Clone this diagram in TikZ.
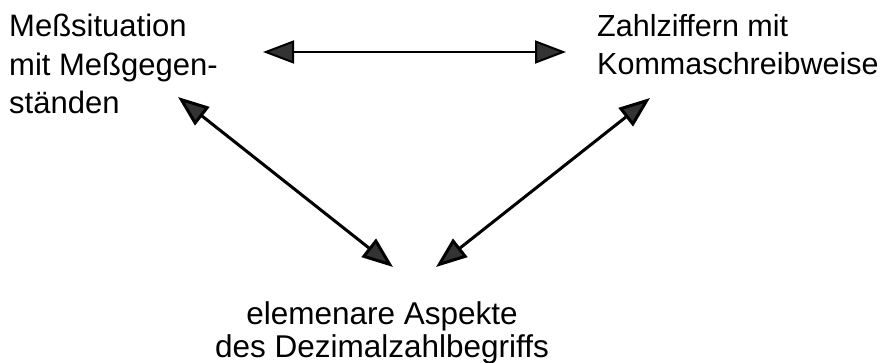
\documentclass[tikz,border=0pt]{standalone}
\usepackage{fontspec}
\setmainfont{Liberation Sans}
\usetikzlibrary{arrows.meta}
\begin{document}
\begin{tikzpicture}[x=1pt,y=-1pt,
  label text/.style={inner sep=0pt,font=\fontsize{31}{38.5}\selectfont},
  >={Triangle[length=31pt,width=23pt,fill=black!80]},
  thinlink/.style={draw=black,line width=2pt,<->},
  thicklink/.style={draw=black,line width=3pt,<->}]
  \useasboundingbox (0,0) rectangle (887,362);
  \fill[white] (0,0) rectangle (887,362);

  % the three labels
  \node[label text,anchor=north west,align=left] (mess) at (9,14)
    {Meßsituation\\mit Meßgegen-\\ständen};
  \node[label text,anchor=north west,align=left,
        font=\fontsize{30.5}{38.5}\selectfont] (ziffern) at (597,14)
    {Zahlziffern mit\\Kommaschreibweise};
  \node[label text,anchor=north,align=center,
        font=\fontsize{31.5}{33}\selectfont] (begriff) at (382,301)
    {elemenare Aspekte\\des Dezimalzahlbegriffs};

  % arrow end points beside the labels
  \coordinate (messR) at (263,52);
  \coordinate (zifL) at (566,52);
  \coordinate (messB) at (178,97);
  \coordinate (begL) at (393,267);
  \coordinate (zifB) at (650,98);
  \coordinate (begR) at (436,267);

  % double-headed connections
  \draw[thinlink] (messR) -- (zifL);
  \draw[thicklink] (messB) -- (begL);
  \draw[thicklink] (zifB) -- (begR);
\end{tikzpicture}
\end{document}
